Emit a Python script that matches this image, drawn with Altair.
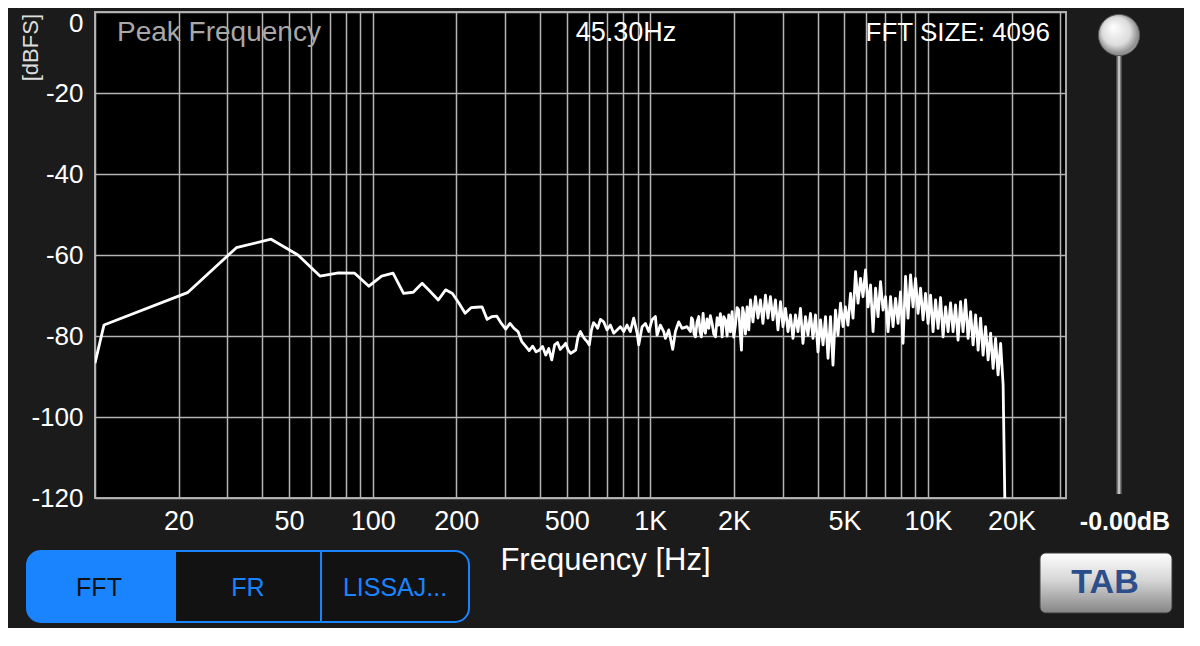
import altair as alt
import pandas as pd

# FFT bins at the low end (44100 / 4096 Hz apart)
low_freq = [10.0, 10.77, 21.53, 32.30, 43.07, 53.83, 64.60, 75.37, 86.13, 96.90,
            107.7, 118.4, 129.2, 140.0, 150.7, 161.5, 172.3, 183.1, 193.8, 204.6,
            215.3, 226.1, 236.9, 247.6, 258.4, 269.2, 280.0, 290.7, 301.5, 312.3,
            323.0, 333.8, 344.5, 355.3, 366.1, 376.9, 387.6, 398.4, 409.2, 419.9,
            430.7, 441.5, 452.2, 463.0, 473.8, 484.6, 495.3, 506.1, 516.8, 527.6,
            538.3, 549.1, 559.9, 570.7, 581.4, 592.2, 603.0, 613.7, 624.5, 635.3, 646.0]
low_db = [-86.7, -77.3, -69.3, -58.2, -56.1, -60.0, -65.2, -64.4, -64.5, -67.7,
          -65.2, -64.5, -69.5, -69.2, -67.0, -69.1, -71.1, -68.6, -69.5, -71.9,
          -74.4, -73.0, -72.9, -72.8, -75.9, -75.2, -75.1, -76.9, -78.3, -76.9,
          -78.1, -78.9, -81.4, -82.5, -83.6, -82.5, -83.9, -83.5, -82.6, -84.7,
          -83.1, -85.9, -82.2, -81.6, -83.3, -82.6, -81.8, -83.5, -84.3, -83.9,
          -83.5, -80.2, -78.9, -80.0, -80.8, -81.4, -82.2, -78.5, -76.7, -77.3, -78.1]

# 650 Hz - 2.3 kHz
mid_freq = [661, 679, 698, 718, 738, 759, 780, 802, 824, 847,
            871, 896, 908, 934, 960, 987, 1014, 1043, 1057, 1087,
            1117, 1133, 1165, 1204, 1231, 1265, 1301, 1356, 1394, 1407,
            1421, 1437, 1454, 1473, 1494, 1510, 1527, 1549, 1564, 1579,
            1600, 1623, 1645, 1669, 1692, 1716, 1740, 1763, 1788, 1813,
            1838, 1864, 1890, 1916, 1943, 1970, 1997, 2025, 2053, 2082,
            2105, 2129, 2150, 2170, 2200, 2231, 2262]
mid_db = [-75.9, -76.5, -78.5, -77.3, -79.3, -78.5, -77.7, -78.9, -77.3, -78.9,
          -75.6, -79.3, -82.2, -77.7, -76.9, -78.9, -76.0, -75.2, -79.8, -77.3,
          -78.9, -80.6, -78.5, -83.3, -78.9, -76.5, -78.1, -77.7, -78.9, -75.5,
          -76.0, -79.5, -80.2, -76.5, -75.2, -79.0, -80.2, -74.4, -78.5, -79.3,
          -75.8, -78.1, -75.0, -76.9, -79.5, -80.2, -75.5, -77.3, -74.5, -80.2,
          -75.2, -76.0, -80.0, -74.8, -79.0, -74.0, -80.3, -77.3, -73.0, -73.6,
          -79.0, -83.5, -73.0, -74.4, -79.5, -72.8, -78.5]

# 2.3 kHz - 19 kHz: peaks and dips of the dense band
high_freq = [2294, 2342, 2391, 2441, 2492, 2544, 2598, 2652, 2707, 2764,
             2822, 2881, 2942, 3003, 3067, 3131, 3196, 3263, 3332, 3402,
             3472, 3545, 3620, 3695, 3773, 3852, 3933, 4015, 4101, 4187,
             4274, 4364, 4454, 4548, 4643, 4740, 4841, 4942, 5043, 5149,
             5260, 5370, 5483, 5597, 5713, 5833, 5956, 6081, 6209, 6339,
             6472, 6607, 6745, 6887, 7032, 7179, 7329, 7483, 7640, 7800,
             7962, 8129, 8300, 8473, 8652, 8832, 9019, 9207, 9399, 9597,
             9798, 10003, 10213, 10426, 10646, 10868, 11097, 11329, 11568, 11810,
             12054, 12308, 12566, 12828, 13098, 13372, 13654, 13939, 14236, 14534,
             14839, 15150, 15464, 15788, 16119, 16457, 16805, 17157, 17509, 17875,
             18260, 18641]
high_db = [-71.1, -76.5, -70.3, -75.6, -71.1, -76.9, -69.9, -75.6, -70.3, -76.0,
           -71.1, -78.5, -71.5, -77.7, -73.2, -78.9, -74.8, -80.6, -74.8, -78.9,
           -73.2, -81.8, -75.2, -79.8, -74.4, -80.6, -74.8, -83.9, -76.0, -82.2,
           -75.2, -85.5, -75.2, -87.2, -73.6, -79.8, -71.9, -77.7, -72.8, -77.3,
           -69.5, -75.6, -64.1, -71.9, -65.8, -70.3, -63.7, -72.8, -67.4, -78.9,
           -68.2, -75.2, -66.6, -73.6, -70.3, -78.9, -70.3, -77.7, -70.7, -76.9,
           -69.1, -81.8, -65.3, -75.6, -64.9, -72.8, -65.8, -74.4, -68.2, -76.0,
           -69.5, -76.9, -69.9, -78.9, -71.1, -78.1, -70.5, -80.2, -72.8, -78.9,
           -71.8, -78.9, -72.3, -81.0, -71.5, -78.9, -71.1, -80.6, -74.0, -82.2,
           -74.8, -83.5, -75.6, -84.7, -77.7, -85.9, -79.3, -88.0, -80.6, -89.6,
           -81.8, -92.1]

# cut-off
tail_freq = [18950, 22050]
tail_db = [-125, -125]

grid_hz = [10, 20, 30, 40, 50, 60, 70, 80, 90,
           100, 200, 300, 400, 500, 600, 700, 800, 900,
           1000, 2000, 3000, 4000, 5000, 6000, 7000, 8000, 9000,
           10000, 20000, 30000]
label_hz = [20, 50, 100, 200, 500]
label_khz = [1000, 2000, 5000, 10000, 20000]
db_ticks = [-120, -100, -80, -60, -40, -20, 0]

spectrum = pd.DataFrame({
    'freq': low_freq + mid_freq + high_freq + tail_freq,
    'db': low_db + mid_db + high_db + tail_db,
})

BLUE = '#1a84ff'
FONT = 'Liberation Sans'

x_labels = (f"indexof({label_hz}, datum.value) >= 0 ? '' + datum.value : "
            f"indexof({label_khz}, datum.value) >= 0 ? (datum.value / 1000) + 'K' : ''")

x_axis = alt.Axis(values=grid_hz, labelExpr=x_labels, labelOverlap=False, labelBound=False,
                  labelFlush=False, labelFontSize=27, labelBaseline='middle', labelPadding=23,
                  title='Frequency [Hz]', titleColor='white', titleFontSize=31,
                  titleFontWeight='normal', titleX=510, titleY=62, titleBaseline='middle',
                  titleAlign='center')
y_axis = alt.Axis(values=db_ticks, labelExpr="'' + datum.value", labelOverlap=False,
                  labelFontSize=26, labelPadding=12, labelBaseline='middle',
                  labelOffset={'condition': {'test': 'datum.value == 0', 'value': 11}, 'value': 0},
                  title=None)

line = alt.Chart(spectrum).mark_line(
    color='white', strokeWidth=2.8, clip=True, strokeJoin='round'
).encode(
    x=alt.X('freq:Q', scale=alt.Scale(type='log', domain=[10, 31400], nice=False), axis=x_axis),
    y=alt.Y('db:Q', scale=alt.Scale(domain=[-120, 0], nice=False), axis=y_axis),
)

one = alt.Data(values=[{}])


def text(s, x, y, size, color, align='center', weight='normal', angle=0):
    return alt.Chart(one).mark_text(
        text=s, align=align, baseline='middle', fontSize=size, color=color,
        fontWeight=weight, angle=angle, font=FONT
    ).encode(x=alt.value(x), y=alt.value(y))


def box(x, x2, y, y2, **kw):
    return alt.Chart(one).mark_rect(**kw).encode(
        x=alt.value(x), x2=alt.value(x2), y=alt.value(y), y2=alt.value(y2))


def rule(x, y, y2, color, width):
    return alt.Chart(one).mark_rule(color=color, strokeWidth=width).encode(
        x=alt.value(x), y=alt.value(y), y2=alt.value(y2))


# readouts inside the plot
peak_label = text('Peak Frequency', 22, 21, 28, '#a8a8a8', align='left')
peak_value = text('45.30Hz', 531, 21, 27, 'white')
fft_size = text('FFT SIZE: 4096', 955, 21, 26, 'white', align='right')
db_unit = text('[dBFS]', -64, 2, 22, '#dddddd', align='right', angle=270)

# mode selector
seg_box = box(-68, 374, 539, 610, fill='#121212', stroke=BLUE, strokeWidth=2, cornerRadius=14)
seg_on = box(-68, 80, 539, 610, fill=BLUE, cornerRadiusTopLeft=14, cornerRadiusBottomLeft=14)
seg_div1 = rule(80, 539, 610, BLUE, 2)
seg_div2 = rule(226, 539, 610, BLUE, 2)
seg_fft = text('FFT', 4, 576, 25, '#111111')
seg_fr = text('FR', 153, 576, 25, BLUE)
seg_lis = text('LISSAJ...', 300, 576, 25, BLUE)

# gain slider
track = rule(1024, 26, 482, '#7a7a7a', 5)
track_hi = rule(1024, 26, 482, '#d8d8d8', 1.5)
knob_fill = alt.RadialGradient(
    gradient='radial', x1=0.35, y1=0.3, r1=0, x2=0.5, y2=0.5, r2=0.62,
    stops=[alt.GradientStop(offset=0, color='#ffffff'),
           alt.GradientStop(offset=0.55, color='#dcdcdc'),
           alt.GradientStop(offset=0.8, color='#8c8c8c'),
           alt.GradientStop(offset=1, color='#cfcfcf')])
knob = alt.Chart(one).mark_point(
    shape='circle', filled=True, fill=knob_fill, size=1700, opacity=1,
    stroke='#555555', strokeWidth=1
).encode(x=alt.value(1024), y=alt.value(23))
gain = text('-0.00dB', 1030, 510, 25, 'white', weight='bold')

# TAB button
tab_fill = alt.LinearGradient(
    gradient='linear', x1=0, x2=0, y1=0, y2=1,
    stops=[alt.GradientStop(offset=0, color='#ffffff'),
           alt.GradientStop(offset=0.45, color='#d6d6d6'),
           alt.GradientStop(offset=1, color='#858585')])
tab_btn = box(945, 1077, 541, 601, fill=tab_fill, stroke='#3a3a3a', strokeWidth=1, cornerRadius=6)
tab_txt = text('TAB', 1010, 571, 34, '#2c4f8c', weight='bold')

chart = alt.layer(
    line, peak_label, peak_value, fft_size, db_unit,
    seg_box, seg_on, seg_div1, seg_div2, seg_fft, seg_fr, seg_lis,
    track, track_hi, knob, gain, tab_btn, tab_txt
).properties(
    width=971,
    height=486,
    autosize=alt.AutoSizeParams(type='none'),
    padding={'left': 87, 'top': 4, 'right': 118, 'bottom': 130},
).configure(
    background='#1b1b1b',
    font=FONT,
).configure_view(
    fill='black',
    stroke='#a8a8a8',
    strokeWidth=2,
).configure_axis(
    domain=False,
    ticks=False,
    tickSize=0,
    grid=True,
    gridColor='#b5b5b5',
    gridWidth=1.5,
    labelColor='white',
    labelFont=FONT,
    titleFont=FONT,
)

chart.save("out.html", embed_options={"renderer": "svg", "actions": False})
